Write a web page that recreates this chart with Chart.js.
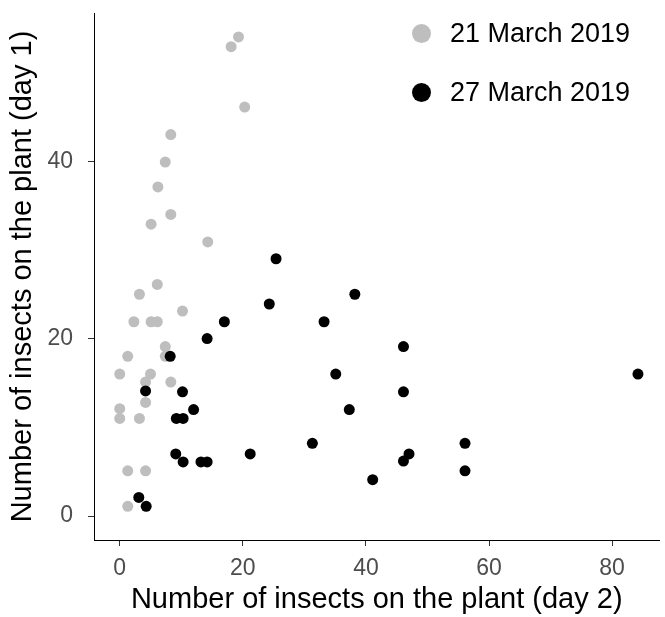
<!DOCTYPE html>
<html>
<head>
<meta charset="utf-8">
<script src="https://cdn.jsdelivr.net/npm/chart.js@4"></script>
<style>
    body { margin: 0; background: #fff; }
    #wrap { position: relative; width: 665px; height: 617px; }
    #legend { position: absolute; left: 412px; top: 0; font-family: "Liberation Sans", Arial, sans-serif; font-size: 27px; color: #000; }
    .row { position: absolute; left: 0; height: 30px; display: flex; align-items: center; white-space: nowrap; }
    .dot { width: 19px; height: 19px; border-radius: 50%; margin-right: 19px; }
</style>
</head>
<body>
<div id="wrap">
    <canvas id="chart" width="665" height="617"></canvas>
    <div id="legend"></div>
</div>
<script>
// Etichette e colori delle serie
const seriesLabels = ['21 March 2019', '27 March 2019'];
const seriesColors = ['#BEBEBE', '#000000'];

// Tick degli assi
const xTicks = [0, 20, 40, 60, 80];
const yTicks = [0, 20, 40];

// 21 marzo 2019 (grigio)
const march21X = [19.3, 18.1, 20.3, 8.3, 7.4, 6.2, 8.3, 5.1, 14.3, 6.1, 3.2, 10.2, 2.3, 5.1, 6.1,
    7.4, 7.4, 1.3, 0, 5.0, 4.2, 8.3, 4.2, 0, 0, 3.2, 1.3, 4.2, 1.3];
const march21Y = [54, 52.9, 46.1, 43, 39.9, 37.1, 34, 32.9, 30.9, 26.1, 25, 23.1, 21.9, 21.9, 21.9,
    19.1, 18, 18, 16, 16, 15.1, 15.1, 12.8, 12.1, 11, 11, 5.1, 5.1, 1.1];

// 27 marzo 2019 (nero)
const march27X = [25.4, 24.3, 17.0, 14.2, 8.2, 4.2, 10.2, 12.0, 9.2, 10.3, 9.1, 10.3, 13.2, 14.2, 21.2,
    3.1, 4.3, 38.2, 33.2, 46.1, 84.2, 35.1, 46.1, 37.3, 31.3, 47.0, 46.1, 56.1, 56.1, 41.1];
const march27Y = [29, 23.9, 21.9, 20, 18, 14.1, 14, 12, 11, 11, 7, 6.1, 6.1, 6.1, 7,
    2.1, 1.1, 25, 21.9, 19.1, 16, 16, 14, 12, 8.2, 7, 6.2, 8.2, 5.1, 4.1];

const toPoints = (xs, ys) => xs.map((x, i) => ({ x: x, y: ys[i] }));

const fontFamily = '"Liberation Sans", Arial, sans-serif';

const ctx = document.getElementById('chart').getContext('2d');
const chart = new Chart(ctx, {
    type: 'scatter',
    data: {
        datasets: [
            {
                label: seriesLabels[0],
                data: toPoints(march21X, march21Y),
                backgroundColor: seriesColors[0],
                borderWidth: 0,
                pointRadius: 5.5,
                order: 1
            },
            {
                label: seriesLabels[1],
                data: toPoints(march27X, march27Y),
                backgroundColor: seriesColors[1],
                borderWidth: 0,
                pointRadius: 5.5,
                order: 0
            }
        ]
    },
    options: {
        responsive: false,
        animation: false,
        layout: { padding: { top: 13, left: 0, right: 0, bottom: 0 } },
        plugins: {
            legend: { display: false },
            tooltip: { enabled: false }
        },
        scales: {
            x: {
                type: 'linear',
                min: -4.18,
                max: 87.7,
                afterBuildTicks: (scale) => { scale.ticks = xTicks.map(v => ({ value: v })); },
                afterFit: (scale) => {
                    scale.height = 77;
                    scale.paddingLeft = 0;
                    scale.paddingRight = 0;
                },
                grid: { display: true, drawOnChartArea: false, drawTicks: true, tickLength: 6, color: '#333333', lineWidth: 1 },
                border: { display: true, color: '#000000', width: 1 },
                ticks: { color: '#4D4D4D', font: { family: fontFamily, size: 23 }, padding: 9, maxRotation: 0 },
                title: {
                    display: true,
                    text: 'Number of insects on the plant (day 2)',
                    color: '#000000',
                    font: { family: fontFamily, size: 29 },
                    padding: { top: 0, bottom: 0 }
                }
            },
            y: {
                type: 'linear',
                min: -2.7,
                max: 56.7,
                afterBuildTicks: (scale) => { scale.ticks = yTicks.map(v => ({ value: v })); },
                afterFit: (scale) => {
                    scale.width = 94;
                    scale.paddingTop = 0;
                    scale.paddingBottom = 0;
                },
                grid: { display: true, drawOnChartArea: false, drawTicks: true, tickLength: 6, color: '#333333', lineWidth: 1 },
                border: { display: true, color: '#000000', width: 1 },
                ticks: { color: '#4D4D4D', font: { family: fontFamily, size: 23 }, padding: 15 },
                title: {
                    display: true,
                    text: 'Number of insects on the plant (day 1)',
                    color: '#000000',
                    font: { family: fontFamily, size: 29 },
                    padding: { top: 6, bottom: 0 }
                }
            }
        }
    }
});

// Legenda HTML costruita dai dataset
const legend = document.getElementById('legend');
const rowTops = [18, 77];
chart.data.datasets.forEach((ds, i) => {
    const row = document.createElement('div');
    row.className = 'row';
    row.style.top = rowTops[i] + 'px';
    row.innerHTML = `<span class="dot" style="background:${ds.backgroundColor}"></span><span>${ds.label}</span>`;
    legend.appendChild(row);
});
</script>
</body>
</html>
